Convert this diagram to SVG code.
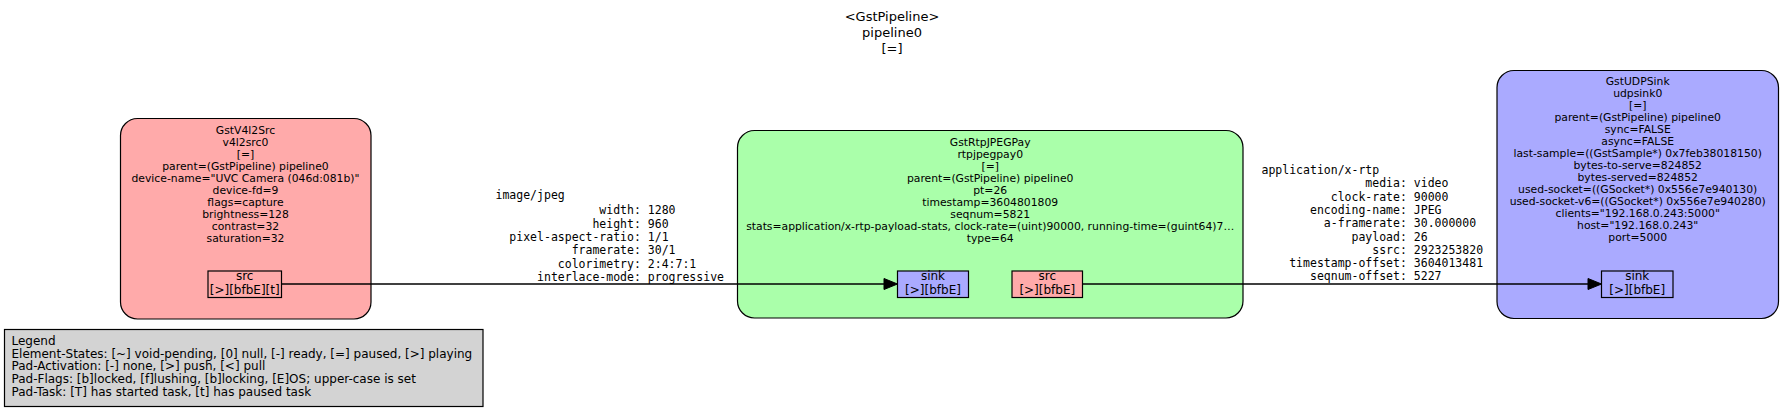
<svg xmlns="http://www.w3.org/2000/svg" width="1784" height="412" viewBox="0 0 1784 412">
<style>
.node{stroke:#000;stroke-width:1.2}
.t{font-family:"DejaVu Sans",sans-serif;font-size:10.8px;fill:#000;text-anchor:middle}
.pt{font-family:"DejaVu Sans",sans-serif;font-size:12px;fill:#000;text-anchor:middle}
.lg{font-family:"DejaVu Sans",sans-serif;font-size:12px;fill:#000}
.ti{font-family:"DejaVu Sans",sans-serif;font-size:13px;fill:#000;text-anchor:middle}
.m{font-family:"DejaVu Sans Mono",monospace;font-size:11.5px;fill:#000;white-space:pre}
.edge{stroke:#000;stroke-width:1.3;fill:none}
.src{fill:#ffaaaa}
.sink{fill:#aaaaff}
</style>
<rect width="1784" height="412" fill="#fff"/>
<g id="title">
<text class="ti" x="892" y="20.5">&lt;GstPipeline&gt;</text>
<text class="ti" x="892" y="37">pipeline0</text>
<text class="ti" x="892" y="52.5">[=]</text>
</g>
<g id="legend">
<rect x="4.5" y="329.5" width="478.5" height="77" fill="#d3d3d3" stroke="#000" stroke-width="1.2"/>
<text class="lg" x="11.5" y="344.5">Legend</text>
<text class="lg" x="11.5" y="357.5">Element-States: [~] void-pending, [0] null, [-] ready, [=] paused, [&gt;] playing</text>
<text class="lg" x="11.5" y="370.3">Pad-Activation: [-] none, [&gt;] push, [&lt;] pull</text>
<text class="lg" x="11.5" y="383.2">Pad-Flags: [b]locked, [f]lushing, [b]locking, [E]OS; upper-case is set</text>
<text class="lg" x="11.5" y="396">Pad-Task: [T] has started task, [t] has paused task</text>
</g>
<g id="v4l2src0">
<rect class="node" x="120.5" y="118.5" width="250.5" height="200.5" rx="17" fill="#ffaaaa"/>
<text class="t" x="245.5" y="134">GstV4l2Src</text>
<text class="t" x="245.5" y="146">v4l2src0</text>
<text class="t" x="245.5" y="158">[=]</text>
<text class="t" x="245.5" y="170">parent=(GstPipeline) pipeline0</text>
<text class="t" x="245.5" y="182">device-name="UVC Camera (046d:081b)"</text>
<text class="t" x="245.5" y="194">device-fd=9</text>
<text class="t" x="245.5" y="206">flags=capture</text>
<text class="t" x="245.5" y="218">brightness=128</text>
<text class="t" x="245.5" y="230">contrast=32</text>
<text class="t" x="245.5" y="242">saturation=32</text>
<g id="v4l2src0_src">
<rect class="node src" x="208" y="271" width="73.5" height="26.5"/>
<text class="pt" x="244.7" y="280">src</text>
<text class="pt" x="244.7" y="294">[&gt;][bfbE][t]</text>
</g>
</g>
<g id="rtpjpegpay0">
<rect class="node" x="737.5" y="130.5" width="505.5" height="187.5" rx="17" fill="#aaffaa"/>
<text class="t" x="990.2" y="145.6">GstRtpJPEGPay</text>
<text class="t" x="990.2" y="157.6">rtpjpegpay0</text>
<text class="t" x="990.2" y="169.6">[=]</text>
<text class="t" x="990.2" y="181.6">parent=(GstPipeline) pipeline0</text>
<text class="t" x="990.2" y="193.6">pt=26</text>
<text class="t" x="990.2" y="205.6">timestamp=3604801809</text>
<text class="t" x="990.2" y="217.6">seqnum=5821</text>
<text class="t" x="990.2" y="229.6">stats=application/x-rtp-payload-stats, clock-rate=(uint)90000, running-time=(guint64)7…</text>
<text class="t" x="990.2" y="241.6">type=64</text>
<g id="rtpjpegpay0_sink">
<rect class="node sink" x="897.5" y="271" width="71" height="26.5"/>
<text class="pt" x="933" y="280">sink</text>
<text class="pt" x="933" y="294">[&gt;][bfbE]</text>
</g>
<g id="rtpjpegpay0_src">
<rect class="node src" x="1012" y="271" width="70.5" height="26.5"/>
<text class="pt" x="1047.3" y="280">src</text>
<text class="pt" x="1047.3" y="294">[&gt;][bfbE]</text>
</g>
</g>
<g id="udpsink0">
<rect class="node" x="1497" y="70.5" width="281.5" height="248" rx="17" fill="#aaaaff"/>
<text class="t" x="1637.7" y="84.6">GstUDPSink</text>
<text class="t" x="1637.7" y="96.6">udpsink0</text>
<text class="t" x="1637.7" y="108.6">[=]</text>
<text class="t" x="1637.7" y="120.6">parent=(GstPipeline) pipeline0</text>
<text class="t" x="1637.7" y="132.6">sync=FALSE</text>
<text class="t" x="1637.7" y="144.6">async=FALSE</text>
<text class="t" x="1637.7" y="156.6">last-sample=((GstSample*) 0x7feb38018150)</text>
<text class="t" x="1637.7" y="168.6">bytes-to-serve=824852</text>
<text class="t" x="1637.7" y="180.6">bytes-served=824852</text>
<text class="t" x="1637.7" y="192.6">used-socket=((GSocket*) 0x556e7e940130)</text>
<text class="t" x="1637.7" y="204.6">used-socket-v6=((GSocket*) 0x556e7e940280)</text>
<text class="t" x="1637.7" y="216.6">clients="192.168.0.243:5000"</text>
<text class="t" x="1637.7" y="228.6">host="192.168.0.243"</text>
<text class="t" x="1637.7" y="240.6">port=5000</text>
<g id="udpsink0_sink">
<rect class="node sink" x="1601.5" y="271" width="71.5" height="26.5"/>
<text class="pt" x="1637.2" y="280">sink</text>
<text class="pt" x="1637.2" y="294">[&gt;][bfbE]</text>
</g>
</g>
<g id="connectors">
<g id="e1">
<path class="edge" d="M281.5 284 H885"/>
<polygon points="884,278.5 897.5,284 884,289.5" fill="#000" stroke="#000" stroke-width="1"/>
<text class="m" xml:space="preserve" x="495.5" y="199">image/jpeg</text>
<text class="m" xml:space="preserve" x="495.5" y="214.3">               width: 1280</text>
<text class="m" xml:space="preserve" x="495.5" y="227.6">              height: 960</text>
<text class="m" xml:space="preserve" x="495.5" y="240.9">  pixel-aspect-ratio: 1/1</text>
<text class="m" xml:space="preserve" x="495.5" y="254.2">           framerate: 30/1</text>
<text class="m" xml:space="preserve" x="495.5" y="267.5">         colorimetry: 2:4:7:1</text>
<text class="m" xml:space="preserve" x="495.5" y="280.8">      interlace-mode: progressive</text>
</g>
<g id="e2">
<path class="edge" d="M1082.5 284 H1589"/>
<polygon points="1588,278.5 1601.5,284 1588,289.5" fill="#000" stroke="#000" stroke-width="1"/>
<text class="m" xml:space="preserve" x="1261.5" y="174">application/x-rtp</text>
<text class="m" xml:space="preserve" x="1261.5" y="187.3">               media: video</text>
<text class="m" xml:space="preserve" x="1261.5" y="200.6">          clock-rate: 90000</text>
<text class="m" xml:space="preserve" x="1261.5" y="213.9">       encoding-name: JPEG</text>
<text class="m" xml:space="preserve" x="1261.5" y="227.2">         a-framerate: 30.000000</text>
<text class="m" xml:space="preserve" x="1261.5" y="240.5">             payload: 26</text>
<text class="m" xml:space="preserve" x="1261.5" y="253.8">                ssrc: 2923253820</text>
<text class="m" xml:space="preserve" x="1261.5" y="267.1">    timestamp-offset: 3604013481</text>
<text class="m" xml:space="preserve" x="1261.5" y="280.4">       seqnum-offset: 5227</text>
</g>
</g>
</svg>
